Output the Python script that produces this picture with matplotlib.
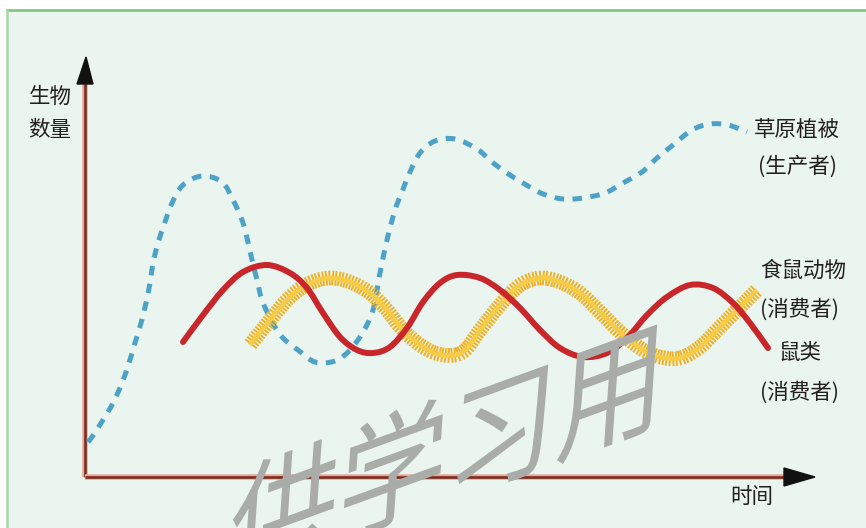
import numpy as np
import matplotlib
matplotlib.use("Agg")
import matplotlib.pyplot as plt
from matplotlib.patches import Rectangle, Polygon, PathPatch
from matplotlib.path import Path
from matplotlib.textpath import TextPath
from matplotlib.font_manager import FontProperties
from matplotlib.transforms import Affine2D, IdentityTransform
import matplotlib.patheffects as pe

plt.rcParams['font.family'] = ['Noto Sans CJK SC', 'DejaVu Sans']

# data (time, amount), origin at the axes corner
grass_t = [3, 7, 18, 28, 37, 44, 50, 56, 61, 65, 68, 73, 80, 87, 98, 117, 137, 148,
           157, 162, 167, 172, 177, 187, 198, 213, 230, 250, 265, 278, 288, 295, 302,
           310, 317, 325, 335, 350, 370, 392, 407, 422, 438, 458, 478, 498, 520, 538,
           557, 572, 588, 607, 625, 643, 662]
grass_n = [35, 40, 57, 74, 94, 114, 134, 154, 174, 194, 214, 234, 255, 274, 292, 301,
           295, 277, 257, 239, 217, 197, 177, 155, 139, 127, 115, 116, 127, 145, 167,
           204, 237, 267, 285, 305, 324, 336, 338, 328, 315, 304, 294, 283, 278, 279,
           284, 294, 305, 319, 332, 347, 353, 352, 345]

predator_t = [98, 118, 138, 158, 182, 205, 222, 238, 255, 272, 288, 305, 322, 338, 355,
              372, 395, 415, 435, 455, 475, 498, 522, 542, 562, 582, 605, 628, 648, 665, 683]
predator_n = [135, 162, 187, 205, 212, 204, 189, 164, 140, 127, 124, 130, 149, 175, 194,
              202, 199, 187, 169, 147, 129, 120, 124, 139, 162, 180, 192, 189, 174, 154, 129]

mouse_t = [165, 185, 205, 225, 245, 265, 285, 302, 318, 338, 358, 378, 395, 415, 435,
           455, 475, 495, 515, 535, 555, 575, 595, 615, 635, 655, 672]
mouse_n = [132, 157, 180, 194, 199, 195, 184, 167, 147, 130, 122, 125, 147, 172, 192,
           199, 195, 184, 165, 145, 129, 120, 119, 130, 150, 170, 187]

labels = [("生物", -35, 380), ("数量", -35, 347),
          ("草原植被", 712, 347), ("(生产者)", 712, 310),
          ("食鼠动物", 718, 206), ("(消费者)", 715, 168),
          ("鼠类", 715, 124), ("(消费者)", 715, 85),
          ("时间", 667, -20)]


def smooth_path(xs, ys):
    # catmull-rom through the read points, drawn as cubic bezier segments
    p = np.column_stack([xs, ys]).astype(float)
    p = np.vstack([p[0], p, p[-1]])
    verts = [p[1]]
    codes = [Path.MOVETO]
    for i in range(1, len(p) - 2):
        c1 = p[i] + (p[i + 1] - p[i - 1]) / 6
        c2 = p[i + 1] - (p[i + 2] - p[i]) / 6
        verts += [c1, c2, p[i + 1]]
        codes += [Path.CURVE4] * 3
    return Path(verts, codes)


W, H = 866, 528
fig = plt.figure(figsize=(W / 100, H / 100), dpi=100, facecolor='white')
ax = fig.add_axes([0, 0, 1, 1])
ax.set_xlim(-85, W - 85)
ax.set_ylim(-(H - 477), 477)
ax.axis('off')

# panel background with green border on top and left
ax.add_patch(Rectangle((-78, -60), 900, 527, facecolor='#e9f5ee', edgecolor='none', zorder=0))
ax.plot([-78, 800], [467, 467], color='#7dbf7d', lw=1.8, zorder=1)
ax.plot([-78, -78], [-60, 467], color='#a9d9a4', lw=1.8, zorder=1)

# watermark
fp = FontProperties(family='Noto Sans CJK SC', weight='light')
tp = TextPath((0, 0), '供学习用', size=116, prop=fp)
tr = Affine2D().skew_deg(24, 0).rotate_deg(20)
ext = tr.transform_path(tp).get_extents()
cx, cy = (ext.x0 + ext.x1) / 2, (ext.y0 + ext.y1) / 2
tr = tr.translate(445 - cx, (H - 452) - cy)
wm = PathPatch(tp, facecolor='#a9aca9', edgecolor='none', transform=tr + IdentityTransform(), zorder=2)
fig.patches.append(wm)

# axes with arrows
axis_fx = [pe.Stroke(linewidth=4.0, foreground='#e3a99a'), pe.Normal()]
ax.plot([0, 0], [0, 395], color='#7b2d1f', lw=1.9, zorder=3, path_effects=axis_fx, solid_capstyle='butt')
ax.plot([0, 700], [0, 0], color='#7b2d1f', lw=1.9, zorder=3, path_effects=axis_fx, solid_capstyle='butt')
ax.add_patch(Polygon([[-8, 393], [8, 393], [1, 420]], closed=True, color='#111111', zorder=4))
ax.add_patch(Polygon([[699, 9], [699, -9], [730, 0]], closed=True, color='#111111', zorder=4))

# grassland (dashed blue)
ax.add_patch(PathPatch(smooth_path(grass_t, grass_n), fill=False, edgecolor='#4ea2c8', lw=3.6,
                       linestyle=(0, (1.9, 1.7)), capstyle='butt', zorder=5))

# mice (ticked yellow rope)
ax.add_patch(PathPatch(smooth_path(mouse_t, mouse_n), fill=False, edgecolor='#f6cb45', lw=3.4,
                       capstyle='butt', zorder=6,
                       path_effects=[pe.TickedStroke(spacing=2.3, angle=90, length=2.3, linewidth=1.4, foreground='#efb026'),
                                     pe.TickedStroke(spacing=2.3, angle=-90, length=2.3, linewidth=1.4, foreground='#efb026'),
                                     pe.Normal()]))

# predators (solid red)
ax.add_patch(PathPatch(smooth_path(predator_t, predator_n), fill=False, edgecolor='#c9262b', lw=4.3,
                       capstyle='round', zorder=7))

for txt, x, y in labels:
    ax.text(x, y, txt, fontsize=15.5, color='#231f20', ha='center', va='center', zorder=8,
            family=['Noto Sans CJK SC', 'DejaVu Sans'])

fig.savefig('out.png', dpi=100, facecolor='white')
